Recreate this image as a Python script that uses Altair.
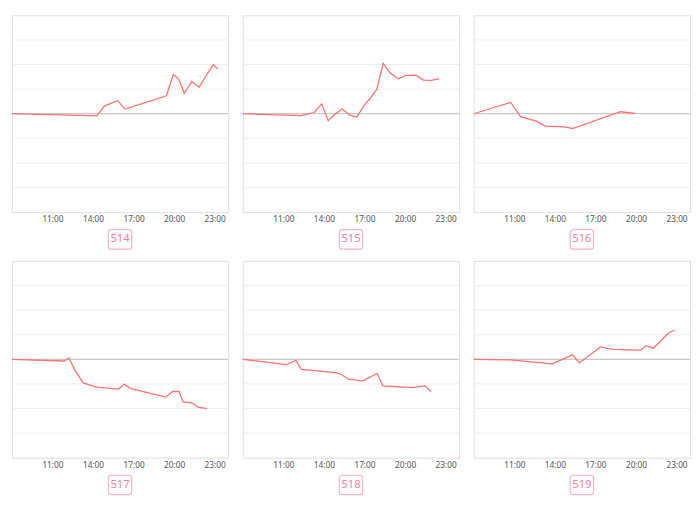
import altair as alt
import pandas as pd

# ---- data ----
labels = ["514", "515", "516", "517", "518", "519"]

t514 = ["08:00", "14:17", "14:50", "15:49", "16:22", "19:26", "19:56", "20:20", "20:45", "21:18", "21:51", "22:53", "23:13"]
v514 = [0, -0.09, 0.31, 0.53, 0.19, 0.73, 1.59, 1.42, 0.83, 1.31, 1.08, 1.99, 1.83]

t515 = ["08:00", "12:20", "13:17", "13:50", "14:19", "14:53", "15:21", "15:54", "16:25", "17:01", "17:26", "17:55", "18:23", "18:55", "19:30", "20:03", "20:50", "21:21", "21:54", "22:32"]
v515 = [0, -0.08, 0.05, 0.40, -0.28, 0.01, 0.19, -0.05, -0.14, 0.37, 0.63, 1.0, 2.05, 1.64, 1.42, 1.56, 1.56, 1.37, 1.36, 1.42]

t516 = ["08:00", "10:44", "11:28", "12:41", "13:17", "14:43", "15:18", "18:52", "19:56"]
v516 = [0, 0.46, -0.12, -0.31, -0.5, -0.53, -0.6, 0.08, 0.01]

t517 = ["08:00", "11:52", "12:13", "12:41", "13:16", "14:16", "15:53", "16:19", "16:49", "19:23", "19:53", "20:22", "20:40", "21:18", "21:48", "22:26"]
v517 = [0, -0.07, 0.05, -0.46, -0.96, -1.13, -1.21, -1.02, -1.19, -1.54, -1.31, -1.31, -1.73, -1.77, -1.96, -2.0]

t518 = ["08:00", "11:14", "11:55", "12:20", "14:53", "15:18", "15:48", "16:52", "17:56", "18:22", "20:34", "21:29", "21:55"]
v518 = [0, -0.22, -0.05, -0.41, -0.54, -0.62, -0.81, -0.88, -0.58, -1.08, -1.15, -1.08, -1.31]

t519 = ["08:00", "10:41", "13:49", "15:18", "15:49", "17:22", "18:16", "20:20", "20:46", "21:17", "22:25", "22:51"]
v519 = [0, -0.02, -0.19, 0.18, -0.15, 0.5, 0.4, 0.37, 0.55, 0.45, 1.07, 1.19]

tick_hours = [11, 14, 17, 20, 23]
y_grid = [-3, -2, -1, 1, 2, 3]

series = [(t514, v514), (t515, v515), (t516, v516), (t517, v517), (t518, v518), (t519, v519)]

DAY = "2023-12-15"
W, H = 222, 202
LINE_COLOR = "#ff7070"
PINK = "#f27fa3"
PINK_LIGHT = "#f9b4ca"
FONT = "Noto Sans"

YSCALE = alt.Scale(domain=[-4, 4], nice=False)


def panel(label, times, values):
    df = pd.DataFrame({"t": [f"{DAY}T{s}:00" for s in times], "v": values})
    x = alt.X(
        "t:T",
        scale=alt.Scale(
            domain=[alt.DateTime(year=2023, month=12, date=15, hours=8),
                    alt.DateTime(year=2023, month=12, date=16, hours=0)]
        ),
        axis=alt.Axis(
            values=[alt.DateTime(year=2023, month=12, date=15, hours=h) for h in tick_hours],
            format="%H:%M", title=None, grid=False, domain=False, ticks=False,
            labelPadding=3, labelFontSize=8.5, labelColor="#555555", labelFont=FONT,
        ),
    )
    grid = alt.Chart(pd.DataFrame({"g": y_grid})).mark_rule(
        color="#eeeeee", strokeWidth=1
    ).encode(y=alt.Y("g:Q", scale=YSCALE, axis=None))
    zero = alt.Chart(pd.DataFrame({"z": [0]})).mark_rule(
        color="#c9c9c9", strokeWidth=1.3
    ).encode(y=alt.Y("z:Q", scale=YSCALE, axis=None))
    line = alt.Chart(df).mark_line(color=LINE_COLOR, strokeWidth=1.3).encode(
        x=x, y=alt.Y("v:Q", scale=YSCALE, axis=None)
    )
    lab = pd.DataFrame({"label": [label]})
    box = alt.Chart(lab).mark_rect(
        fill="white", stroke=PINK_LIGHT, strokeWidth=1.2, cornerRadius=3
    ).encode(
        x=alt.value(W / 2 - 12), x2=alt.value(W / 2 + 12),
        y=alt.value(H + 18), y2=alt.value(H + 38),
    )
    txt = alt.Chart(lab).mark_text(
        color=PINK, fontSize=11.5, font=FONT, baseline="middle", align="center"
    ).encode(text="label:N", x=alt.value(W / 2), y=alt.value(H + 28))
    return alt.layer(grid, zero, line, box, txt).properties(width=W, height=H)


panels = [panel(l, t, v) for l, (t, v) in zip(labels, series)]
row1 = alt.hconcat(*panels[:3], spacing=9)
row2 = alt.hconcat(*panels[3:], spacing=9)

chart = alt.vconcat(row1, row2, spacing=9).properties(
    padding=0
).configure_view(stroke="#dedede", strokeWidth=1).configure(background="white")

chart.save("out.html", embed_options={"renderer": "svg", "actions": False})
